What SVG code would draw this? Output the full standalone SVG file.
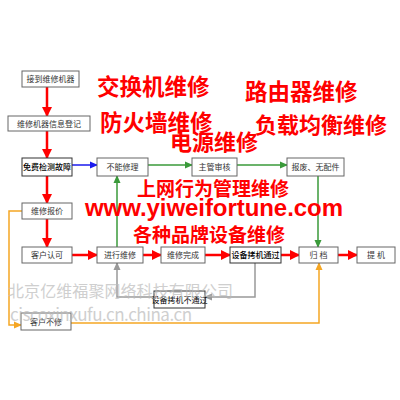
<svg xmlns="http://www.w3.org/2000/svg" width="400" height="400" viewBox="0 0 400 400">
<style>
.box rect{fill:#fff;stroke:#666;stroke-width:1}
.box text{font-family:"Noto Sans CJK SC","Noto Sans",sans-serif;font-size:8px;fill:#333;text-anchor:middle}
.box.strong rect{stroke:#333}
.box.strong text{fill:#000;font-weight:500}
.red{stroke:#f00;stroke-width:2.5;fill:none}
.green{stroke:#3a9a3a;stroke-width:1.5;fill:none}
.blue{stroke:#1a1aee;stroke-width:1.5;fill:none}
.gray{stroke:#999;stroke-width:1.5;fill:none}
.orange{stroke:#f5a623;stroke-width:1.5;fill:none}
.title{font-family:"Noto Sans CJK SC","Noto Sans",sans-serif;font-weight:bold;fill:#f00}
.wm{font-family:"Noto Sans CJK SC","Liberation Sans",sans-serif;fill:#bbb;opacity:0.7}
</style>
<defs>
<marker id="ar" markerUnits="userSpaceOnUse" markerWidth="10" markerHeight="10" refX="9" refY="5" orient="auto"><path d="M0,0 L10,5 L0,10 z" fill="#f00"/></marker>
<marker id="ag" markerUnits="userSpaceOnUse" markerWidth="8" markerHeight="8" refX="7" refY="4" orient="auto"><path d="M0,0.5 L8,4 L0,7.5 z" fill="#3a9a3a"/></marker>
<marker id="ab" markerUnits="userSpaceOnUse" markerWidth="8" markerHeight="8" refX="7" refY="4" orient="auto"><path d="M0,0.5 L8,4 L0,7.5 z" fill="#1a1aee"/></marker>
<marker id="ay" markerUnits="userSpaceOnUse" markerWidth="8" markerHeight="8" refX="7" refY="4" orient="auto"><path d="M0,0.5 L8,4 L0,7.5 z" fill="#999"/></marker>
<marker id="ao" markerUnits="userSpaceOnUse" markerWidth="8" markerHeight="8" refX="7" refY="4" orient="auto"><path d="M0,0.5 L8,4 L0,7.5 z" fill="#f5a623"/></marker>
</defs>
<rect width="400" height="400" fill="#fff"/>

<g id="connectors">
<line class="red" x1="47" y1="87" x2="47" y2="116" marker-end="url(#ar)"/>
<line class="red" x1="47" y1="131" x2="47" y2="158" marker-end="url(#ar)"/>
<line class="red" x1="47" y1="176" x2="47" y2="203" marker-end="url(#ar)"/>
<line class="red" x1="47" y1="219" x2="47" y2="247" marker-end="url(#ar)"/>
<line class="blue" x1="72" y1="165" x2="97" y2="165" marker-end="url(#ab)"/>
<line class="green" x1="148" y1="165" x2="192" y2="165" marker-end="url(#ag)"/>
<line class="green" x1="237" y1="165" x2="287" y2="165" marker-end="url(#ag)"/>
<line class="green" x1="318" y1="176" x2="318" y2="247" marker-end="url(#ag)"/>
<line class="green" x1="117" y1="247" x2="117" y2="176" marker-end="url(#ag)"/>
<line class="red" x1="72" y1="255" x2="97" y2="255" marker-end="url(#ar)"/>
<line class="red" x1="143" y1="255" x2="161" y2="255" marker-end="url(#ar)"/>
<line class="red" x1="205" y1="255" x2="230" y2="255" marker-end="url(#ar)"/>
<line class="red" x1="281" y1="255" x2="299" y2="255" marker-end="url(#ar)"/>
<line class="red" x1="338" y1="255" x2="357" y2="255" marker-end="url(#ar)"/>
<polyline class="gray" points="255,263 255,297 205,297" marker-end="url(#ay)"/>
<polyline class="gray" points="154,297 117,297 117,263" marker-end="url(#ay)"/>
<polyline class="orange" points="22,211 9,211 9,325 21,325" marker-end="url(#ao)"/>
<polyline class="orange" points="71,323 319,323 319,263" marker-end="url(#ao)"/>
</g>

<g id="n1" class="box"><rect x="22" y="71" width="57" height="16"/><text x="50.5" y="82">接到维修机器</text></g>
<g id="n2" class="box"><rect x="8" y="116" width="82" height="15"/><text x="49" y="126.5">维修机器信息登记</text></g>
<g id="n3" class="box strong"><rect x="22" y="158" width="50" height="18"/><text x="47" y="170">免费检测故障</text></g>
<g id="n4" class="box"><rect x="97" y="158" width="51" height="18"/><text x="122.5" y="170">不能修理</text></g>
<g id="n5" class="box"><rect x="192" y="158" width="45" height="18"/><text x="214.5" y="170">主管审核</text></g>
<g id="n6" class="box"><rect x="287" y="158" width="57" height="18"/><text x="315.5" y="170">报废、无配件</text></g>
<g id="n7" class="box"><rect x="22" y="203" width="50" height="16"/><text x="47" y="214">维修报价</text></g>
<g id="n8" class="box"><rect x="22" y="247" width="50" height="16"/><text x="47" y="258">客户认可</text></g>
<g id="n9" class="box"><rect x="97" y="247" width="46" height="16"/><text x="120" y="258">进行维修</text></g>
<g id="n10" class="box"><rect x="161" y="247" width="44" height="16"/><text x="183" y="258">维修完成</text></g>
<g id="n11" class="box strong"><rect x="230" y="247" width="51" height="16"/><text x="255.5" y="258">设备拷机通过</text></g>
<g id="n12" class="box"><rect x="299" y="247" width="39" height="16"/><text x="318.5" y="258">归 档</text></g>
<g id="n13" class="box"><rect x="357" y="247" width="38" height="16"/><text x="376" y="258">提 机</text></g>
<g id="n14" class="box strong"><rect x="154" y="291" width="51" height="17"/><text x="179.5" y="302.5" style="font-weight:normal">设备拷机不通过</text></g>
<g id="n15" class="box"><rect x="21" y="313" width="50" height="17"/><text x="46" y="324.5">客户不修</text></g>

<g id="titles">
<text class="title" x="97" y="95" font-size="22.5">交换机维修</text>
<text class="title" x="100" y="131" font-size="22.5">防火墙维修</text>
<text class="title" x="170" y="150" font-size="22">电源维修</text>
<text class="title" x="245" y="100" font-size="22.5">路由器维修</text>
<text class="title" x="255" y="133" font-size="22">负载均衡维修</text>
<text class="title" x="137" y="196" font-size="19">上网行为管理维修</text>
<text x="85" y="216" font-family="Liberation Sans, Arial, sans-serif" font-weight="bold" font-size="24" fill="#f00" textLength="258">www.yiweifortune.com</text>
<text class="title" x="133" y="242" font-size="19">各种品牌设备维修</text>
</g>

<g id="watermark">
<text class="wm" x="8" y="297" font-size="16" textLength="225">北京亿维福聚网络科技有限公司</text>
<text class="wm" x="10" y="321" font-size="17" textLength="182">ciscoxinxufu.cn.china.cn</text>
</g>
</svg>
